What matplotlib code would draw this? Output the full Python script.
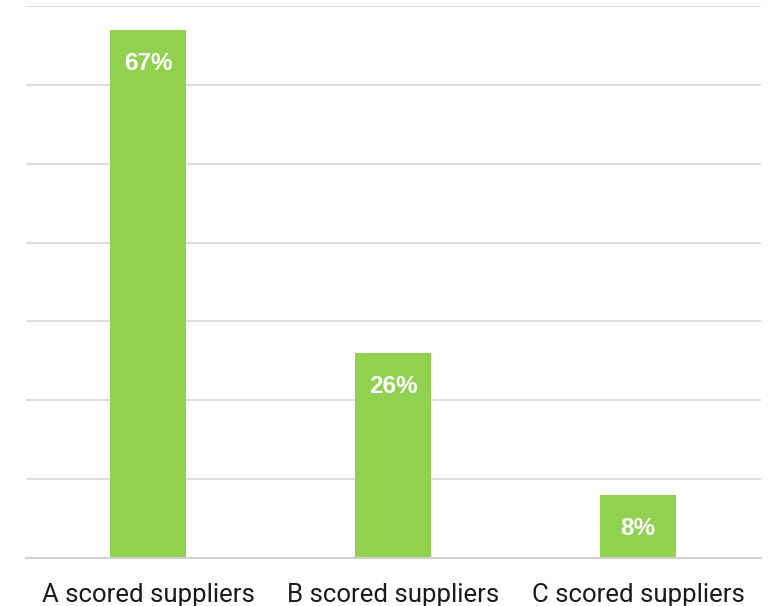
import matplotlib.pyplot as plt

categories = ['A scored suppliers', 'B scored suppliers', 'C scored suppliers']
shares = [67, 26, 8]

W, H = 771, 606
fig = plt.figure(figsize=(W / 100, H / 100), dpi=100)
ax = fig.add_axes([25.5 / W, (H - 558) / H, 735 / W, 552 / H])

x = range(len(categories))
bars = ax.bar(x, shares, width=0.314, color='#92d050', zorder=2)

for b, v in zip(bars, shares):
    ax.annotate(f'{v}%', (b.get_x() + b.get_width() / 2, v),
                xytext=(0, -16), textcoords='offset points',
                ha='center', va='top', color='white', fontsize=17.5,
                fontweight='bold', family='Liberation Sans', zorder=3)

ax.set_xlim(-0.5, 2.5)
ax.set_ylim(0, 70)
ax.set_yticks(range(0, 71, 10))
ax.yaxis.grid(True, color='#d9d9d9', linewidth=1.3, zorder=0)
ax.tick_params(axis='y', left=False, labelleft=False)
ax.tick_params(axis='x', length=0, pad=18)
ax.set_xticks(list(x))
ax.set_xticklabels(categories, fontsize=18.5, family='Roboto', color='#1a1a1a')
for s in ['top', 'left', 'right']:
    ax.spines[s].set_visible(False)
ax.spines['bottom'].set_color('#d0d0d0')
ax.spines['bottom'].set_linewidth(1.5)

fig.savefig('out.png', dpi=100)
